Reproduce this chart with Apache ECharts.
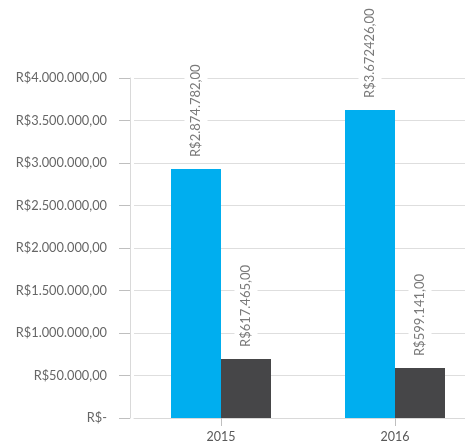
<!DOCTYPE html>
<html>
<head>
<meta charset="utf-8">
<script src="https://cdn.jsdelivr.net/npm/echarts@6/dist/echarts.min.js"></script>
<style>
    html, body { margin: 0; padding: 0; background: #fff; overflow: hidden; }
    /* o gráfico original é cortado à direita */
    #chart { width: 482px; height: 448px; }
</style>
</head>
<body>
<div id="chart"></div>
<script>
// dados
const years = ['2015', '2016']
const blueValues = [2929000, 3624000]
const darkValues = [694000, 588000]
const blueLabels = ['R$2.874.782,00', 'R$3.672426,00']
const darkLabels = ['R$617.465,00', 'R$599.141,00']
const yTickLabels = ['R$-', 'R$50.000,00', 'R$1.000.000,00', 'R$1.500.000,00', 'R$2.000.000,00',
    'R$2.500.000,00', 'R$3.000.000,00', 'R$3.500.000,00', 'R$4.000.000,00']

const font = 'Lato, "Open Sans", sans-serif'
const myChart = echarts.init(document.getElementById('chart'))

const barLabel = (texts) => ({
    show: true,
    position: 'top',
    rotate: 90,
    align: 'left',
    verticalAlign: 'middle',
    distance: 10,
    color: '#7a7a7a',
    fontFamily: font,
    fontSize: 13,
    backgroundColor: '#fff',
    padding: [5, 2],
    formatter: (p) => texts[p.dataIndex]
})

myChart.setOption({
    animation: false,
    grid: {
        left: 134,
        top: 78,
        bottom: 30,
        right: 0
    },
    xAxis: {
        type: 'category',
        data: years,
        axisLine: { show: true, lineStyle: { color: '#d9d9d9' } },
        axisTick: { show: true, alignWithLabel: true, length: 8, lineStyle: { color: '#bfbfbf' } },
        axisLabel: { color: '#595959', fontFamily: font, fontSize: 12.5, margin: 12 }
    },
    yAxis: {
        type: 'value',
        min: 0,
        max: 4000000,
        interval: 500000,
        offset: 4,
        axisLine: { show: true, lineStyle: { color: '#d9d9d9' } },
        axisTick: { show: true, length: 11, lineStyle: { color: '#bfbfbf' } },
        splitLine: { show: true, lineStyle: { color: '#dedede' } },
        axisLabel: {
            color: '#666',
            fontFamily: font,
            fontSize: 12.8,
            margin: 23,
            formatter: (v) => yTickLabels[Math.round(v / 500000)]
        }
    },
    series: [
        {
            type: 'bar',
            data: blueValues,
            barWidth: 50,
            barGap: '0%',
            itemStyle: { color: '#00aeef' },
            label: barLabel(blueLabels)
        },
        {
            type: 'bar',
            data: darkValues,
            barWidth: 50,
            itemStyle: { color: '#464648' },
            label: barLabel(darkLabels)
        }
    ]
})
</script>
</body>
</html>
